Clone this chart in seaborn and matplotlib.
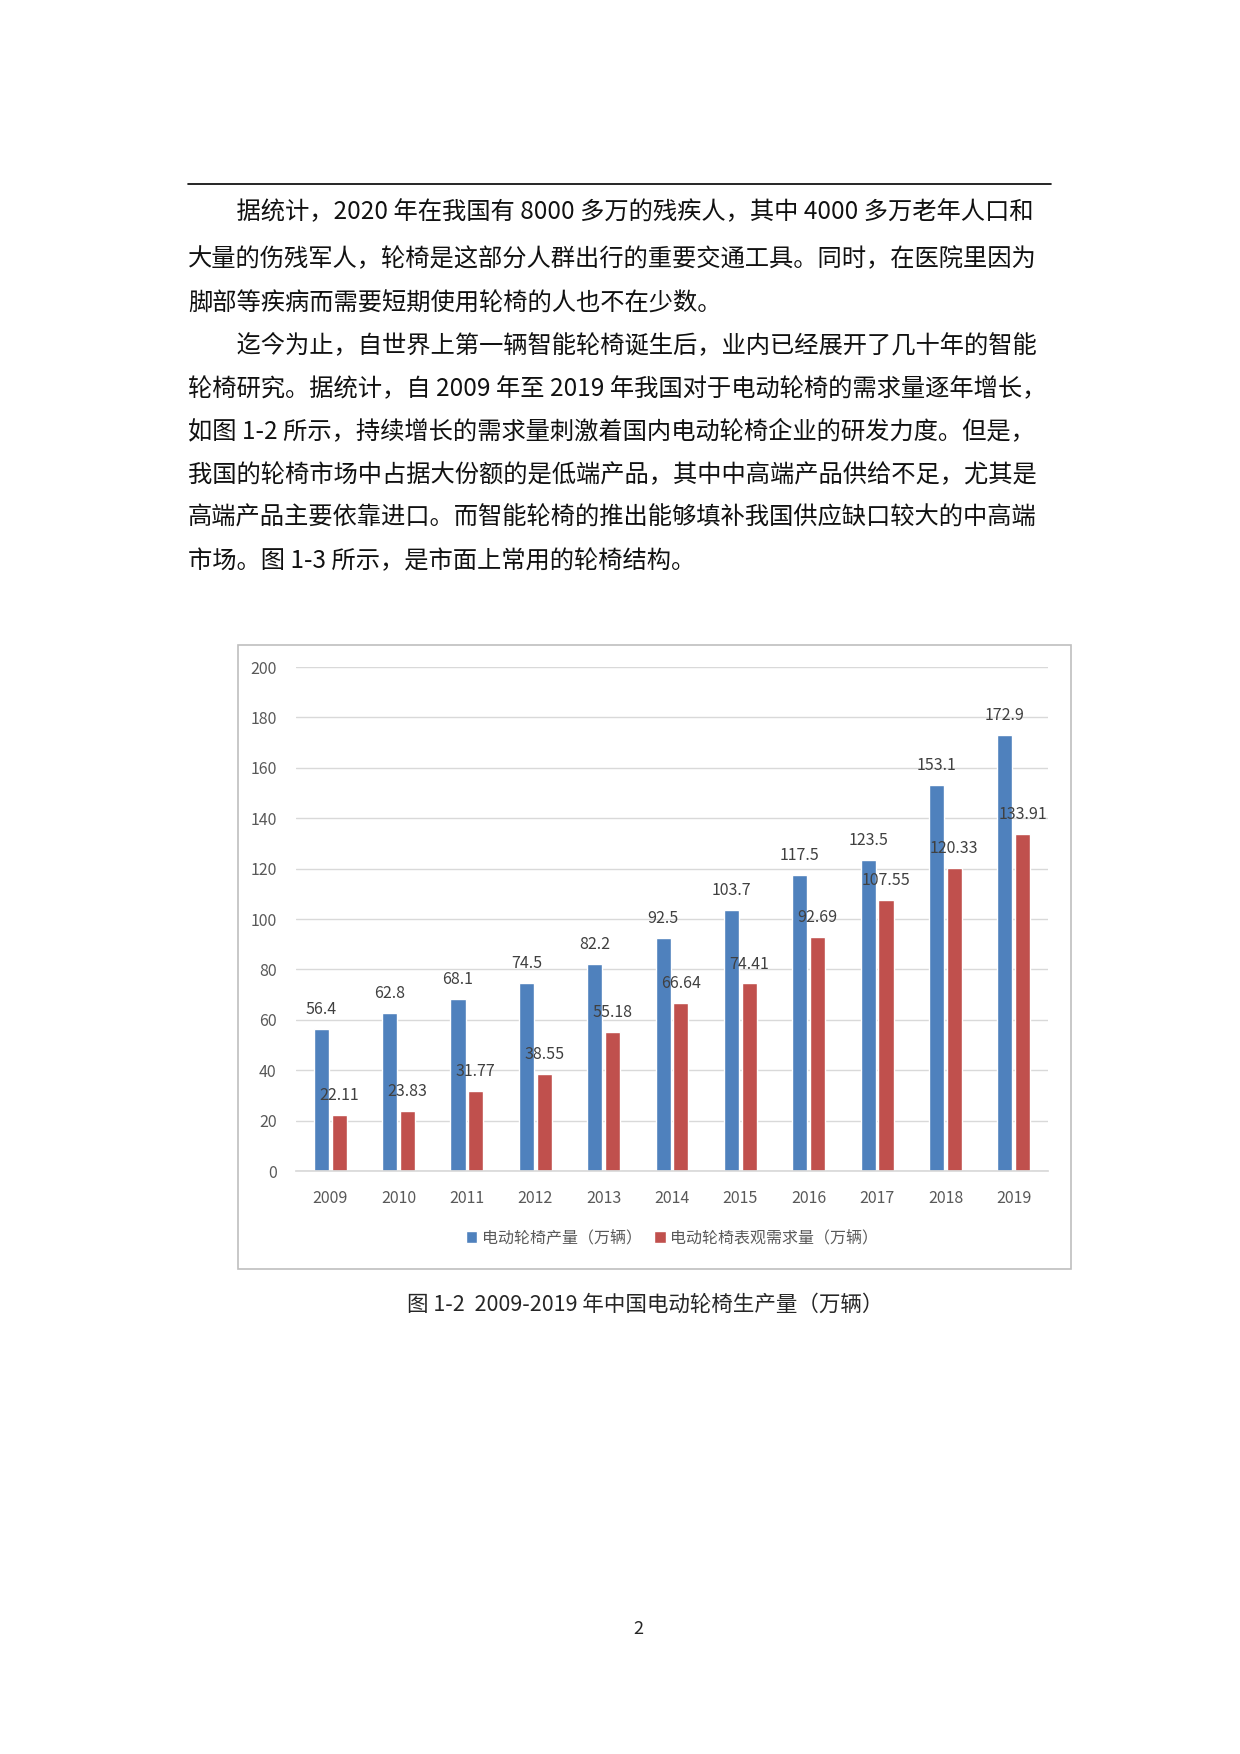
import matplotlib
matplotlib.use("Agg")
import matplotlib.pyplot as plt
import seaborn as sns
import pandas as pd

years = ["2009","2010","2011","2012","2013","2014","2015","2016","2017","2018","2019"]
production = [56.4,62.8,68.1,74.5,82.2,92.5,103.7,117.5,123.5,153.1,172.9]
demand = [22.11,23.83,31.77,38.55,55.18,66.64,74.41,92.69,107.55,120.33,133.91]
series_names = ["电动轮椅产量（万辆）", "电动轮椅表观需求量（万辆）"]
yticks = [0,20,40,60,80,100,120,140,160,180,200]

paragraph = [
    "　　据统计，2020 年在我国有 8000 多万的残疾人，其中 4000 多万老年人口和",
    "大量的伤残军人，轮椅是这部分人群出行的重要交通工具。同时，在医院里因为",
    "脚部等疾病而需要短期使用轮椅的人也不在少数。",
    "　　迄今为止，自世界上第一辆智能轮椅诞生后，业内已经展开了几十年的智能",
    "轮椅研究。据统计，自 2009 年至 2019 年我国对于电动轮椅的需求量逐年增长，",
    "如图 1-2 所示，持续增长的需求量刺激着国内电动轮椅企业的研发力度。但是，",
    "我国的轮椅市场中占据大份额的是低端产品，其中中高端产品供给不足，尤其是",
    "高端产品主要依靠进口。而智能轮椅的推出能够填补我国供应缺口较大的中高端",
    "市场。图 1-3 所示，是市面上常用的轮椅结构。",
]
caption = "图 1-2  2009-2019 年中国电动轮椅生产量（万辆）"

sns.set_theme(style="white")
plt.rcParams['font.family'] = ['Noto Sans CJK SC', 'DejaVu Sans']

W, H = 1240, 1754
fig = plt.figure(figsize=(12.4, 17.54), dpi=100)

# page rule
fig.add_artist(plt.Line2D([188/W, 1051/W], [1-184/H, 1-184/H], color="black", lw=1.2))
line_y = [212,259,304,346,389,431,475,518,561]
for y, t in zip(line_y, paragraph):
    fig.text(188/W, 1-y/H, t, fontsize=17.5, va="center", ha="left", color="#111111")

# chart frame
fig.add_artist(plt.Rectangle((238/W, 1-1269/H), (1071-238)/W, (1269-645)/H,
                             fill=False, ec="#BFBFBF", lw=1.2))

ax = fig.add_axes([296/W, 1-1171/H, (1048-296)/W, (1171-667)/H])
df = pd.DataFrame({
    "year": years*2,
    "value": production+demand,
    "series": [series_names[0]]*len(years)+[series_names[1]]*len(years),
})
sns.barplot(data=df, x="year", y="value", hue="series", palette=["#4F81BD", "#C0504D"],
            width=0.52, gap=0.15, ax=ax, legend=True, saturation=1)
ax.set_ylim(0, 200)
ax.set_yticks(yticks)
ax.yaxis.grid(True, color="#D9D9D9", lw=1)
ax.set_axisbelow(True)
for s in ["top","right","left"]:
    ax.spines[s].set_visible(False)
ax.spines["bottom"].set_color("#D9D9D9")
ax.set_xlabel(""); ax.set_ylabel("")
ax.tick_params(axis="both", length=0, labelsize=11.5, colors="#595959")
ax.tick_params(axis="x", pad=14)
ax.tick_params(axis="y", pad=14)
for c in ax.containers:
    for bar in c:
        h = bar.get_height()
        ax.annotate(f"{h:g}", (bar.get_x()+bar.get_width()/2, h), xytext=(0, 14),
                    textcoords="offset points", ha="center", va="center",
                    fontsize=11.5, color="#404040")
ax.legend(loc="center", bbox_to_anchor=(0.5, (1171-1238)/(1171-667)), ncol=2, frameon=False,
          fontsize=11.5, handlelength=0.7, handleheight=0.7, columnspacing=0.8,
          handletextpad=0.3, labelcolor="#595959")

fig.text(645/W, 1-1305/H, caption, fontsize=15.5, ha="center", va="center")
fig.text(638/W, 1-1629/H, "2", fontsize=13, ha="center", va="center")

fig.savefig("out.png", dpi=100, facecolor="white")
